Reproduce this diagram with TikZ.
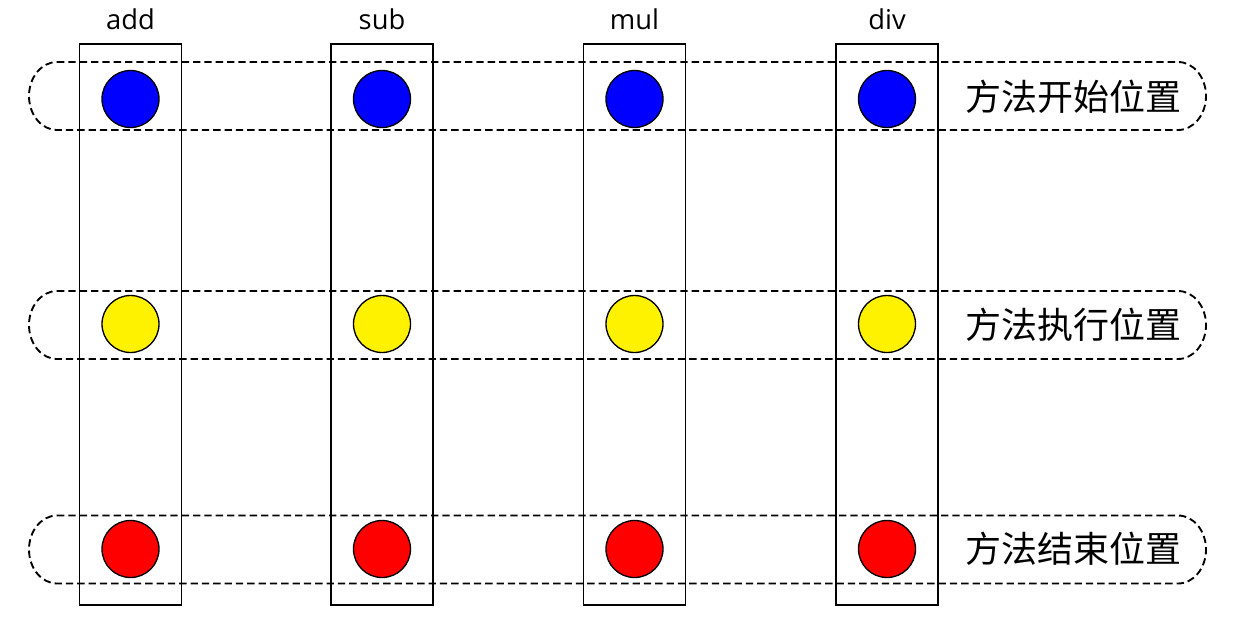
\documentclass[tikz,border=0pt]{standalone}
\usepackage{fontspec}
\setmainfont{Open Sans}
\newfontfamily\cjk{Noto Sans CJK SC}
\begin{document}
\begin{tikzpicture}[x=0.75pt,y=-0.75pt,
  band/.style={draw=black, dash pattern=on 5.5pt off 3pt, line width=1.4pt},
  col/.style={draw=black, line width=1.4pt, minimum width=102*0.75pt, minimum height=561*0.75pt, inner sep=0pt},
  dot/.style={circle, draw=black, line width=1pt, minimum size=57*0.75pt, inner sep=0pt},
  hdr/.style={font=\fontsize{20.5pt}{22pt}\selectfont, inner sep=0pt},
  lbl/.style={font=\cjk\fontsize{27pt}{29pt}\selectfont, inner sep=0pt}]
\useasboundingbox (0,0) rectangle (1237,629);
\foreach \y in {96,325,549.5}{
  \draw[band] (57,\y-34) -- (1178,\y-34)
    arc[start angle=90, end angle=-90, x radius=21pt, y radius=25.5pt]
    -- (57,\y+34)
    arc[start angle=270, end angle=90, x radius=21pt, y radius=25.5pt] -- cycle;
}
\node[col] (c1) at (130.5,324.5) {};
\node[col] (c2) at (382,324.5) {};
\node[col] (c3) at (634.5,324.5) {};
\node[col] (c4) at (887,324.5) {};
\foreach \i/\x in {1/130.5,2/382,3/634.5,4/887}{
  \node[dot, fill=blue] (s\i) at (\x,99) {};
  \node[dot, fill=yellow] (m\i) at (\x,324) {};
  \node[dot, fill=red] (e\i) at (\x,549) {};
}
\node[hdr] (h1) at (130.5,19) {add};
\node[hdr] (h2) at (382,19) {sub};
\node[hdr] (h3) at (634.5,19) {mul};
\node[hdr] (h4) at (887,19) {div};
\node[lbl] (l1) at (1073,97) {方法开始位置};
\node[lbl] (l2) at (1073,325) {方法执行位置};
\node[lbl] (l3) at (1073,549) {方法结束位置};
\end{tikzpicture}
\end{document}
